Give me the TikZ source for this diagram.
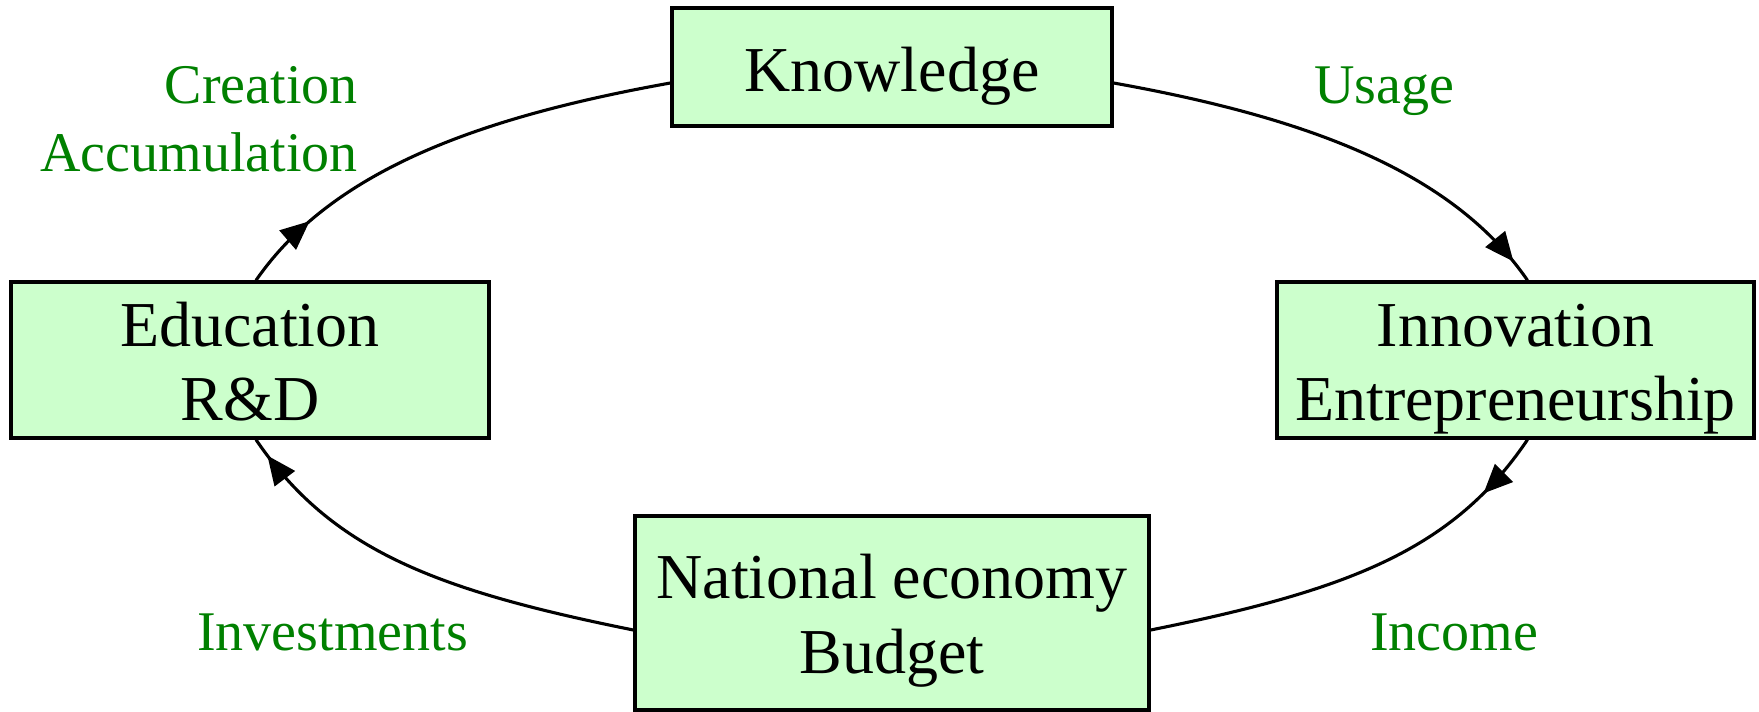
\documentclass[tikz,border=0pt]{standalone}
\usepackage{fontspec}
\setmainfont{Liberation Serif}
\usetikzlibrary{arrows.meta,decorations.markings}
\definecolor{boxfill}{RGB}{204,255,204}
\definecolor{labelgreen}{RGB}{0,128,0}
\tikzset{
  box/.style={draw=black, line width=3.3pt, fill=boxfill, inner sep=0pt},
  boxtext/.style={inner sep=0pt, anchor=base, font=\fontsize{64pt}{75pt}\selectfont},
  lbl/.style={inner sep=0pt, text=labelgreen, font=\fontsize{56pt}{66pt}\selectfont},
  conn/.style={line width=3.1pt, postaction={decorate},
    decoration={markings, mark=at position #1 with {\arrow{Triangle[length=29pt,width=25pt]}}}},
}
\begin{document}
\begin{tikzpicture}[x=1pt,y=-1pt]
\useasboundingbox (0,0) rectangle (1759,712);
% boxes
\node[box, minimum width=440pt, minimum height=118pt] (know) at (892,67) {};
\node[box, minimum width=478pt, minimum height=156pt] (edu) at (250,360) {};
\node[box, minimum width=477pt, minimum height=156pt] (inn) at (1515.5,360) {};
\node[box, minimum width=514pt, minimum height=194pt] (nat) at (892,613) {};
% box texts
\node[boxtext] (knowT) at (892,91) {Knowledge};
\node[boxtext] (eduA) at (250,346) {Education};
\node[boxtext] (eduB) at (250,420) {R\&D};
\node[boxtext] (innA) at (1515.5,346) {Innovation};
\node[boxtext] (innB) at (1515.5,420) {Entrepreneurship};
\node[boxtext] (natA) at (892,598) {National economy};
\node[boxtext] (natB) at (892,673) {Budget};
% labels
\node[lbl, anchor=base east] (creat) at (358,103) {Creation};
\node[lbl, anchor=base east] (accum) at (358,171) {Accumulation};
\node[lbl, anchor=base west] (usage) at (1314,103) {Usage};
\node[lbl, anchor=base west] (invest) at (197,650) {Investments};
\node[lbl, anchor=base west] (income) at (1370,650) {Income};
% connectors
\draw[conn=0.17] ([xshift=6pt]edu.north) .. controls (331,172) and (475,118) .. ([yshift=-16pt]know.west);
\draw[conn=0.95] ([yshift=-16pt]know.east) .. controls (1309,118) and (1453,172) .. ([xshift=12pt]inn.north);
\draw[conn=0.16] ([xshift=12pt]inn.south) .. controls (1453,550) and (1349,590) .. ([yshift=-17pt]nat.east);
\draw[conn=0.955] ([yshift=-17pt]nat.west) .. controls (435,590) and (331,550) .. ([xshift=6pt]edu.south);
\end{tikzpicture}
\end{document}
